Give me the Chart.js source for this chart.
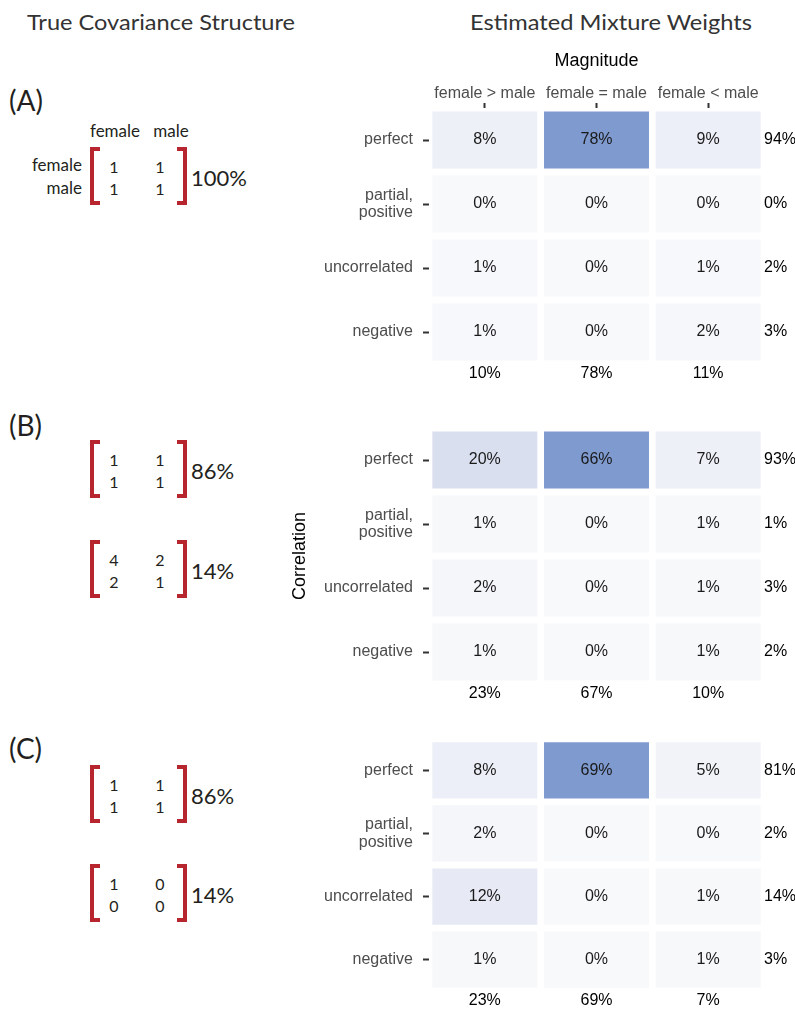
<!DOCTYPE html>
<html>
<head>
<meta charset="utf-8">
<script src="https://cdn.jsdelivr.net/npm/chart.js@4.4.0/dist/chart.umd.min.js"></script>
<style>
  html, body { margin: 0; padding: 0; background: #fff; }
  body { width: 795px; height: 1011px; position: relative; overflow: hidden;
         font-family: Lato, "Open Sans", sans-serif; color: #231f20; }
  .t { position: absolute; white-space: nowrap; }
  canvas { position: absolute; }
  .br { position: absolute; box-sizing: border-box; border: 4px solid #b7252e; width: 10px; height: 58px; }
  .br.l { border-right: none; }
  .br.r { border-left: none; }
</style>
</head>
<body>
<script>
// ---- heatmap data: estimated mixture weights (%) ----
const magnitudeLabels = ['female > male', 'female = male', 'female < male'];
const correlationLabels = ['perfect', ['partial,', 'positive'], 'uncorrelated', 'negative'];

const weightsA = [[8, 78, 9], [0, 0, 0], [1, 0, 1], [1, 0, 2]];
const rowTotalsA = [94, 0, 2, 3];
const colTotalsA = [10, 78, 11];

const weightsB = [[20, 66, 7], [1, 0, 1], [2, 0, 1], [1, 0, 1]];
const rowTotalsB = [93, 1, 3, 2];
const colTotalsB = [23, 67, 10];

const weightsC = [[8, 69, 5], [2, 0, 0], [12, 0, 1], [1, 0, 1]];
const rowTotalsC = [81, 2, 14, 3];
const colTotalsC = [23, 69, 7];

// ---- true covariance structures ----
const sexLabels = ['female', 'male'];
const covA1 = [[1, 1], [1, 1]];
const covB1 = [[1, 1], [1, 1]];
const covB2 = [[4, 2], [2, 1]];
const covC1 = [[1, 1], [1, 1]];
const covC2 = [[1, 0], [0, 0]];
const shareA = ['100%'];
const shareB = ['86%', '14%'];
const shareC = ['86%', '14%'];

// ---- helpers for the text side ----
function addText(text, x, yc, size, o = {}) {
  const d = document.createElement('div');
  d.className = 't';
  d.textContent = text;
  const lh = Math.round(size * 1.2);
  d.style.fontSize = size + 'px';
  d.style.lineHeight = lh + 'px';
  d.style.top = (yc - lh / 2) + 'px';
  if (o.align === 'right') d.style.right = (795 - x) + 'px';
  else if (o.align === 'center') { d.style.left = x + 'px'; d.style.transform = 'translateX(-50%)'; }
  else d.style.left = x + 'px';
  if (o.color) d.style.color = o.color;
  document.body.appendChild(d);
  if (o.width) {
    const w = d.getBoundingClientRect().width;
    d.style.transformOrigin = 'left center';
    d.style.transform = 'scaleX(' + (o.width / w) + ')';
  }
  return d;
}

function addMatrix(top, m, share) {
  const lb = document.createElement('div');
  lb.className = 'br l'; lb.style.left = '90px'; lb.style.top = top + 'px';
  const rb = document.createElement('div');
  rb.className = 'br r'; rb.style.left = '177px'; rb.style.top = top + 'px';
  document.body.appendChild(lb); document.body.appendChild(rb);
  const colX = [114, 160];
  const rowY = [top + 19, top + 41];
  m.forEach((row, i) => row.forEach((v, j) => addText(String(v), colX[j], rowY[i], 16, { align: 'center' })));
  addText(share, 191, top + 31, 22);
}

addText('True Covariance Structure', 27, 22, 22, { width: 268, color: '#333' });
addText('Estimated Mixture Weights', 470, 22, 22, { width: 282, color: '#333' });

addText('(A)', 9, 100, 28);
addText(sexLabels[0], 115, 131, 17, { align: 'center' });
addText(sexLabels[1], 171, 131, 17, { align: 'center' });
addText(sexLabels[0], 82, 165, 17, { align: 'right' });
addText(sexLabels[1], 82, 188, 17, { align: 'right' });
addMatrix(147, covA1, shareA[0]);

addText('(B)', 9, 425, 28);
addMatrix(440, covB1, shareB[0]);
addMatrix(540, covB2, shareB[1]);

addText('(C)', 9, 748, 28);
addMatrix(765, covC1, shareC[0]);
addMatrix(864, covC2, shareC[1]);

// ---- heatmaps ----
const FONT = '"Liberation Sans", Arial, Helvetica, sans-serif';
Chart.defaults.font.family = FONT;
Chart.defaults.animation = false;

const colorStops = [[0, [248, 249, 251]], [0.3, [218, 223, 240]], [1, [126, 154, 207]]];
function cellColor(t) {
  for (let k = 1; k < colorStops.length; k++) {
    const [t1, c1] = colorStops[k];
    const [t0, c0] = colorStops[k - 1];
    if (t <= t1) {
      const f = (t - t0) / (t1 - t0);
      const c = c0.map((a, i) => Math.round(a + (c1[i] - a) * f));
      return `rgb(${c[0]},${c[1]},${c[2]})`;
    }
  }
  const c = colorStops[colorStops.length - 1][1];
  return `rgb(${c[0]},${c[1]},${c[2]})`;
}

const cellLabels = {
  id: 'cellLabels',
  afterDatasetsDraw(chart) {
    const ctx = chart.ctx;
    ctx.save();
    ctx.font = '16px ' + FONT;
    ctx.fillStyle = '#1a1a1a';
    ctx.textAlign = 'center';
    ctx.textBaseline = 'middle';
    chart.data.datasets.forEach((ds, i) => {
      chart.getDatasetMeta(i).data.forEach((bar, j) => {
        const p = bar.getProps(['x', 'y', 'base'], true);
        ctx.fillText(ds.weights[j] + '%', p.x, (p.y + p.base) / 2);
      });
    });
    ctx.restore();
  }
};

const ROW_GAP = 0.11;

function heatmap(top, height, padTop, bottomH, weights, rowTotals, colTotals, showHeader, showYTitle) {
  const cv = document.createElement('canvas');
  cv.width = 515; cv.height = height;
  cv.style.left = '280px'; cv.style.top = top + 'px';
  cv.style.width = '515px'; cv.style.height = height + 'px';
  document.body.appendChild(cv);
  const maxW = Math.max(...weights.flat());
  const datasets = weights.map((row, r) => ({
    data: row.map(() => [r + ROW_GAP / 2, r + 1 - ROW_GAP / 2]),
    weights: row,
    backgroundColor: row.map(v => cellColor(v / maxW)),
    borderWidth: 0,
    borderSkipped: false,
    grouped: false,
    barPercentage: 0.94,
    categoryPercentage: 1
  }));
  const rowTicks = s => { s.ticks = correlationLabels.map((_, i) => ({ value: i + 0.5 })); };
  return new Chart(cv, {
    type: 'bar',
    data: { labels: magnitudeLabels, datasets },
    options: {
      responsive: false,
      devicePixelRatio: 1,
      layout: { padding: { top: padTop, left: 0, right: 0, bottom: 0 } },
      plugins: { legend: { display: false }, tooltip: { enabled: false } },
      scales: {
        x: {
          type: 'category', position: 'top', display: showHeader, offset: true,
          grid: { offset: false, drawOnChartArea: false, drawTicks: true, tickLength: 5, tickColor: '#333', tickWidth: 2 },
          border: { display: false },
          ticks: { color: '#4d4d4d', font: { size: 16, lineHeight: 1.1 }, padding: 1, maxRotation: 0, autoSkip: false },
          title: { display: true, text: 'Magnitude', color: '#000', font: { size: 18 }, padding: { top: 10, bottom: 0 } },
          afterFit: s => { if (showHeader) s.height = 68; }
        },
        xTot: {
          axis: 'x', type: 'category', position: 'bottom', offset: true,
          labels: colTotals.map(v => v + '%'),
          grid: { display: false, drawTicks: false },
          border: { display: false },
          ticks: { color: '#000', font: { size: 16, lineHeight: 1.2 }, padding: 0, maxRotation: 0, autoSkip: false },
          afterFit: s => { s.height = bottomH; }
        },
        y: {
          type: 'linear', position: 'left', min: 0, max: 4, reverse: true,
          afterBuildTicks: rowTicks,
          grid: { drawOnChartArea: false, drawTicks: true, tickLength: 6, tickColor: '#333', tickWidth: 2 },
          border: { display: false },
          ticks: { color: '#4d4d4d', font: { size: 16, lineHeight: 1.1 }, padding: 10, autoSkip: false,
                   callback: (v, i) => correlationLabels[i] },
          title: { display: showYTitle, text: 'Correlation', color: '#000', font: { size: 18 }, padding: { top: 9, bottom: 0 } },
          afterFit: s => { s.width = 149; }
        },
        yTot: {
          axis: 'y', type: 'linear', position: 'right', min: 0, max: 4, reverse: true,
          afterBuildTicks: rowTicks,
          grid: { drawOnChartArea: false, drawTicks: false },
          border: { display: false },
          ticks: { color: '#000', font: { size: 16 }, padding: 0, autoSkip: false,
                   callback: (v, i) => rowTotals[i] + '%' },
          afterFit: s => { s.width = 31; }
        }
      }
    },
    plugins: [cellLabels]
  });
}

heatmap(40, 350, 0, 26, weightsA, rowTotalsA, colTotalsA, true, false);
heatmap(400, 310, 28, 26, weightsB, rowTotalsB, colTotalsB, false, true);
heatmap(720, 290, 17, 17, weightsC, rowTotalsC, colTotalsC, false, false);
</script>
</body>
</html>
